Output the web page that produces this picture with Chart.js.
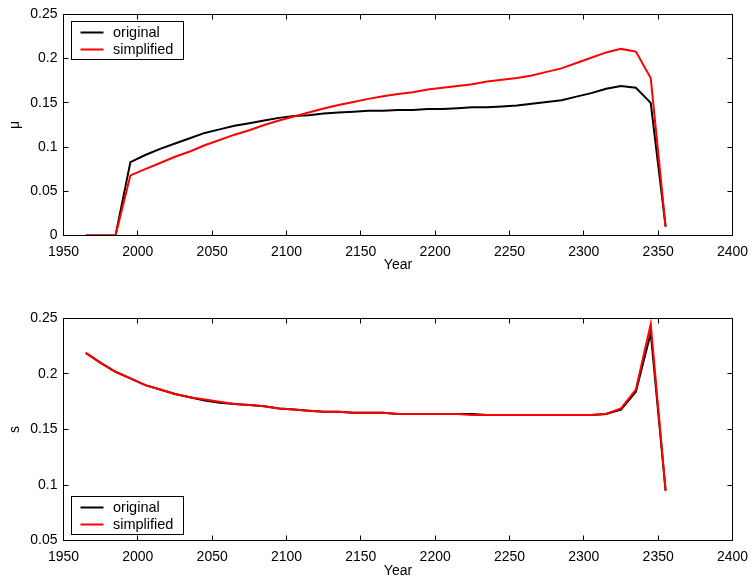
<!DOCTYPE html>
<html>
<head>
<meta charset="utf-8">
<script src="https://cdn.jsdelivr.net/npm/chart.js@4/dist/chart.umd.min.js"></script>
<style>
  html, body { margin: 0; padding: 0; background: #fff; }
  body { width: 754px; height: 582px; position: relative; overflow: hidden; }
  canvas { position: absolute; left: 0; }
  #c1 { top: 0; }
  #c2 { top: 291px; }
</style>
</head>
<body>
<canvas id="c1" width="754" height="291"></canvas>
<canvas id="c2" width="754" height="291"></canvas>
<script>
// ---- data ----
const years = [1965,1975,1985,1995,2005,2015,2025,2035,2045,2055,
               2065,2075,2085,2095,2105,2115,2125,2135,2145,2155,
               2165,2175,2185,2195,2205,2215,2225,2235,2245,2255,
               2265,2275,2285,2295,2305,2315,2325,2335,2345,2355];

const muOriginal = [0,0,0,0.083,0.091,0.098,0.104,0.110,0.116,0.120,
                    0.124,0.127,0.130,0.133,0.135,0.136,0.138,0.139,0.140,0.141,
                    0.141,0.142,0.142,0.143,0.143,0.144,0.145,0.145,0.146,0.147,
                    0.149,0.151,0.153,0.157,0.161,0.166,0.169,0.167,0.150,0.010];

const muSimplified = [0,0,0,0.068,0.075,0.082,0.089,0.095,0.102,0.108,
                      0.114,0.119,0.125,0.130,0.1345,0.139,0.1435,0.1475,0.151,0.1545,
                      0.1575,0.160,0.162,0.165,0.167,0.169,0.171,0.174,0.176,0.178,
                      0.181,0.185,0.189,0.195,0.201,0.207,0.211,0.208,0.178,0.010];

const sOriginal = [0.219,0.210,0.202,0.196,0.190,0.186,0.182,0.179,0.176,0.174,
                   0.173,0.172,0.171,0.169,0.168,0.167,0.166,0.166,0.165,0.165,
                   0.165,0.164,0.164,0.164,0.164,0.164,0.164,0.163,0.163,0.163,
                   0.163,0.163,0.163,0.163,0.163,0.164,0.168,0.184,0.237,0.095];

const sSimplified = [0.219,0.210,0.202,0.196,0.190,0.186,0.182,0.179,0.177,0.175,
                     0.173,0.172,0.171,0.169,0.168,0.167,0.166,0.166,0.165,0.165,
                     0.165,0.164,0.164,0.164,0.164,0.164,0.163,0.163,0.163,0.163,
                     0.163,0.163,0.163,0.163,0.163,0.164,0.169,0.186,0.245,0.095];

const seriesLabels = ['original', 'simplified'];
const seriesColors = ['#000000', '#ff0000'];
const xTicks = [1950,2000,2050,2100,2150,2200,2250,2300,2350,2400];
const muTicks = [0,0.05,0.1,0.15,0.2,0.25];
const sTicks = [0.05,0.1,0.15,0.2,0.25];
// ----------------------------------------------

const FONT = '"Liberation Sans", Arial, Helvetica, sans-serif';

function pts(vals) { return years.map((y, i) => ({ x: y, y: vals[i] })); }
function fmt(v) { return String(+Number(v).toFixed(2)); }

const framePlugin = {
  id: 'frame',
  afterDraw(chart) {
    const { ctx, chartArea: a, scales } = chart;
    const L = Math.floor(a.left) + 0.5, R = Math.floor(a.right) + 0.5;
    const T = Math.floor(a.top) + 0.5, B = Math.floor(a.bottom) + 0.5;
    ctx.save();
    ctx.strokeStyle = '#000';
    ctx.lineWidth = 1;
    ctx.strokeRect(L, T, R - L, B - T);
    ctx.beginPath();
    scales.x.ticks.forEach(t => {
      const p = Math.floor(scales.x.getPixelForValue(t.value)) + 0.5;
      ctx.moveTo(p, B); ctx.lineTo(p, B - 5);
      ctx.moveTo(p, T); ctx.lineTo(p, T + 5);
    });
    scales.y.ticks.forEach(t => {
      const p = Math.floor(scales.y.getPixelForValue(t.value)) + 0.5;
      ctx.moveTo(L, p); ctx.lineTo(L + 5, p);
      ctx.moveTo(R, p); ctx.lineTo(R - 5, p);
    });
    ctx.stroke();
    ctx.restore();
  }
};

const boxLegendPlugin = {
  id: 'boxLegend',
  afterDraw(chart, args, opts) {
    const { ctx, chartArea: a } = chart;
    const w = 112, h = 38;
    const x0 = Math.floor(a.left + 8) + 0.5;
    const y0 = opts.anchor === 'top'
      ? Math.floor(a.top + 7.5) + 0.5
      : Math.floor(a.bottom - 6.5 - h) + 0.5;
    ctx.save();
    ctx.fillStyle = '#fff';
    ctx.fillRect(x0, y0, w, h);
    ctx.strokeStyle = '#000';
    ctx.lineWidth = 1;
    ctx.strokeRect(x0, y0, w, h);
    ctx.font = '14.5px ' + FONT;
    ctx.textBaseline = 'middle';
    ctx.textAlign = 'left';
    seriesLabels.forEach((lab, i) => {
      const y = y0 + 11 + i * 17;
      ctx.strokeStyle = seriesColors[i];
      ctx.lineWidth = 2;
      ctx.beginPath();
      ctx.moveTo(x0 + 9, y);
      ctx.lineTo(x0 + 32, y);
      ctx.stroke();
      ctx.fillStyle = '#000';
      ctx.fillText(lab, x0 + 41.5, y);
    });
    ctx.restore();
  }
};

function makeChart(id, origVals, simpVals, yMin, yMax, yTickVals, yTitle, padTop, axisH, titlePadBottom, legendAnchor) {
  return new Chart(document.getElementById(id), {
    type: 'line',
    data: {
      datasets: [
        { label: seriesLabels[0], data: pts(origVals), borderColor: seriesColors[0],
          backgroundColor: seriesColors[0], borderWidth: 2, pointRadius: 0, tension: 0, order: 1 },
        { label: seriesLabels[1], data: pts(simpVals), borderColor: seriesColors[1],
          backgroundColor: seriesColors[1], borderWidth: 2, pointRadius: 0, tension: 0, order: 0 }
      ]
    },
    options: {
      responsive: false,
      animation: false,
      devicePixelRatio: 1,
      layout: { padding: { top: padTop, left: 0, right: 21.5, bottom: 0 } },
      plugins: {
        legend: { display: false },
        tooltip: { enabled: false },
        boxLegend: { anchor: legendAnchor }
      },
      scales: {
        x: {
          type: 'linear',
          min: 1950, max: 2400,
          afterBuildTicks: s => { s.ticks = xTicks.map(v => ({ value: v })); },
          afterFit: s => { s.height = axisH; s.paddingLeft = 0; s.paddingRight = 0; },
          grid: { display: false, drawTicks: false },
          border: { display: false },
          ticks: { color: '#000', font: { family: FONT, size: 14 }, padding: 8,
                   maxRotation: 0, autoSkip: false, callback: v => String(v) },
          title: { display: true, text: 'Year', color: '#000',
                   font: { family: FONT, size: 14 }, padding: { top: 0, bottom: titlePadBottom } }
        },
        y: {
          min: yMin, max: yMax,
          afterBuildTicks: s => { s.ticks = yTickVals.map(v => ({ value: v })); },
          afterFit: s => { s.width = 63.5; },
          grid: { display: false, drawTicks: false },
          border: { display: false },
          ticks: { color: '#000', font: { family: FONT, size: 14 }, padding: 6,
                   autoSkip: false, callback: v => fmt(v) },
          title: { display: true, text: yTitle, color: '#000',
                   font: { family: FONT, size: 14 }, padding: { top: 7, bottom: 0 } }
        }
      }
    },
    plugins: [framePlugin, boxLegendPlugin]
  });
}

makeChart('c1', muOriginal, muSimplified, 0, 0.25, muTicks, 'μ', 13.5, 55.5, 17.6, 'top');
makeChart('c2', sOriginal, sSimplified, 0.05, 0.25, sTicks, 's', 27.5, 41.5, 2, 'bottom');
</script>
</body>
</html>
